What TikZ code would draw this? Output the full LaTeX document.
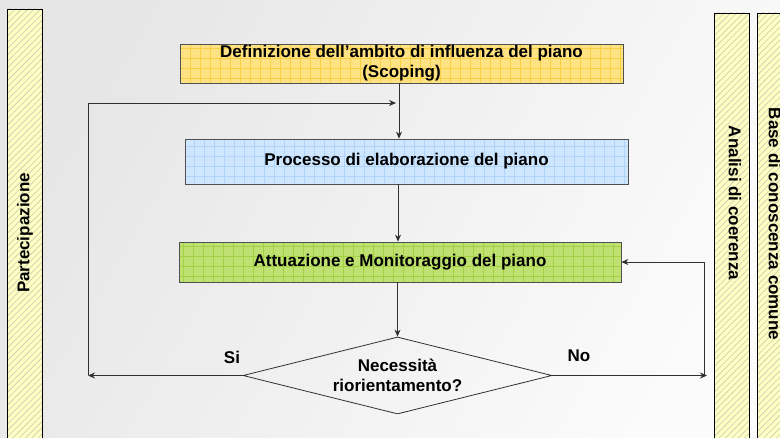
\documentclass[tikz,border=0pt]{standalone}
\usepackage{fontspec}
\setmainfont{Liberation Sans}
\usetikzlibrary{shapes.geometric,arrows.meta,patterns.meta}
\definecolor{bgA}{HTML}{E6E6E6}
\definecolor{bgB}{HTML}{FBFBFB}
\definecolor{barfill}{HTML}{FFFFC4}
\definecolor{hatch}{HTML}{D2D2B4}
\definecolor{yfill}{HTML}{FFE283}
\definecolor{ygrid}{HTML}{F8CF40}
\definecolor{bfill}{HTML}{CFE6FF}
\definecolor{bgrid}{HTML}{AFD4F8}
\definecolor{gfill}{HTML}{BFE172}
\definecolor{ggrid}{HTML}{A3D143}
\definecolor{edge}{HTML}{505050}
\definecolor{linec}{HTML}{303030}
\tikzset{
  txt/.style={font=\fontsize{17}{20}\selectfont\bfseries, text=black},
  sidebar/.style={draw=black, line width=0.8pt, preaction={fill=barfill},
     preaction={pattern={Lines[angle=45,distance=4.5pt,line width=0.8pt]}, pattern color=hatch}},
  stepbox/.style={txt, draw=edge, line width=0.8pt, inner sep=0pt, align=center,
     minimum width=443pt, minimum height=#1},
  ybox/.style={stepbox=39pt, fill=yfill,
     path picture={\draw[ygrid, line width=0.5pt, step=10pt] (path picture bounding box.south west) grid (path picture bounding box.north east);}},
  bbox/.style={stepbox=45pt, fill=bfill,
     path picture={\draw[bgrid, line width=0.5pt, step=10pt] (path picture bounding box.south west) grid (path picture bounding box.north east);}},
  gbox/.style={stepbox=40pt, fill=gfill,
     path picture={\draw[ggrid, line width=0.5pt, step=10pt] (path picture bounding box.south west) grid (path picture bounding box.north east);}},
  arr/.style={draw=linec, line width=0.8pt, -{Stealth[length=7pt,width=6pt]}},
}
\begin{document}
\begin{tikzpicture}[x=1pt,y=-1pt]
\useasboundingbox (0,0) rectangle (780,438);
\shade[left color=bgA, right color=bgB, shading angle=60] (0,0) rectangle (780,438);

% side bars
\node[sidebar, minimum width=35pt, minimum height=451pt, inner sep=0pt] (partbar) at (24.5,234.5) {};
\node[txt, rotate=90] (parttxt) at (25,233) {Partecipazione};
\node[sidebar, minimum width=35pt, minimum height=447pt, inner sep=0pt] (anbar) at (731.5,236.5) {};
\node[txt, rotate=-90] (antxt) at (735,203) {Analisi di coerenza};
\node[sidebar, minimum width=44pt, minimum height=447pt, inner sep=0pt] (basebar) at (779,236.5) {};
\node[txt, rotate=-90] (basetxt) at (775,224) {Base di conoscenza comune};

% boxes
\node[ybox] (def) at (401.5,63.5) {Definizione dell’ambito di influenza del piano\\(Scoping)};
\node[bbox] (proc) at (406.5,161.5) {Processo di elaborazione del piano};
\node[gbox, minimum width=442pt] (att) at (400,262) {Attuazione e Monitoraggio del piano};
\node[txt, diamond, draw=linec, line width=0.8pt,
      minimum width=309pt, minimum height=77pt, inner sep=0pt, align=center, aspect=4]
      (dia) at (397.5,375.5) {Necessità\\riorientamento?};

% connectors
\draw[arr] (def.south -| 399,0) -- (proc.north -| 399,0);
\draw[arr] (proc.south -| 398,0) -- (att.north -| 398,0);
\draw[arr] (att.south -| dia.north) -- (dia.north);

\coordinate (lp1) at (88,375.5);
\coordinate (lp2) at (88,103);
\coordinate (lp3) at (396,103);
\draw[arr] (dia.west) -- (lp1);
\draw[arr] (lp1) -- (lp2) -- (lp3);

\coordinate (rp1) at (707,375.5);
\coordinate (rp2) at (704,375.5);
\coordinate (rp3) at (704,262);
\draw[arr] (dia.east) -- (rp1);
\draw[arr] (rp2) -- (rp3) -- (att.east);

\node[txt] (si) at (232,357) {Si};
\node[txt] (no) at (579,356) {No};
\end{tikzpicture}
\end{document}
